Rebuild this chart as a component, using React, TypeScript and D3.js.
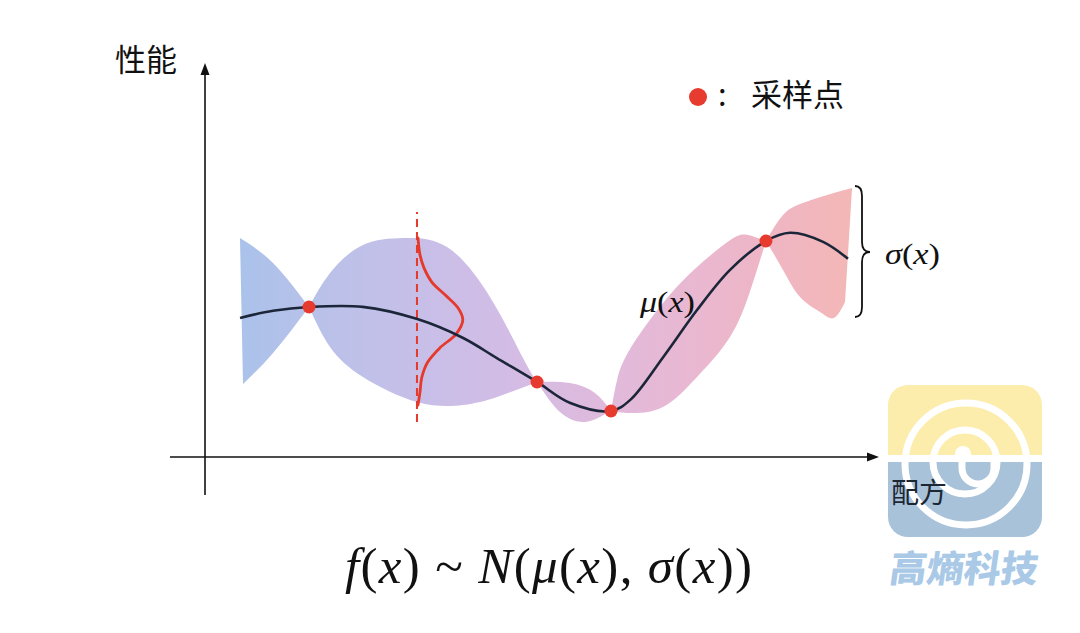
import React from 'react';
import * as d3 from 'd3';

const W = 1080;
const H = 633;

// mean curve μ(x) (chart units 0–100)
const meanX = [5.2, 10.1, 15.43, 23.4, 31.5, 38.3, 43.3, 49.26, 54.2, 60.24, 63.1, 68.0, 73.0, 77.9, 83.23, 86.8, 91.7, 95.4];
const meanY = [35.3, 37.1, 38.07, 38.1, 35.0, 30.2, 25.1, 19.04, 13.7, 11.68, 14.5, 25.4, 37.3, 47.5, 54.82, 56.9, 54.6, 50.3];

// sampled points
const sampleX = [15.43, 49.26, 60.24, 83.23];
const sampleY = [38.07, 19.04, 11.68, 54.82];

// confidence band, one lobe between consecutive samples: [x, y]
const bandUpper: [number, number][][] = [
  [[5.19, 55.58], [10.09, 49.24], [15.43, 38.07]],
  [[15.43, 38.07], [18.55, 46.7], [23.44, 53.81], [29.38, 55.58], [35.91, 53.3], [42.28, 40.61], [47.18, 25.1], [49.26, 19.04]],
  [[49.26, 19.04], [54.15, 18.78], [57.86, 16.24], [60.24, 11.68]],
  [[60.24, 11.68], [61.13, 19.5], [63.06, 27.4], [67.95, 39.09], [73.0, 48.22], [77.89, 55.0], [80.4, 56.4], [83.23, 54.82]],
  [[83.23, 54.82], [85.76, 61.4], [88.28, 64.2], [91.69, 66.2], [96.0, 68.27]],
];
const bandLower: [number, number][][] = [
  [[5.64, 18.53], [10.09, 26.4], [15.43, 38.07]],
  [[15.43, 38.07], [18.55, 27.92], [23.44, 20.3], [31.45, 13.96], [38.28, 13.2], [43.32, 15.23], [49.26, 19.04]],
  [[49.26, 19.04], [52.67, 11.42], [56.08, 8.88], [58.61, 10.15], [60.24, 11.68]],
  [[60.24, 11.68], [63.06, 11.17], [67.95, 12.69], [73.0, 20.3], [77.89, 30.46], [80.86, 42.0], [83.23, 54.82]],
  [[83.23, 54.82], [85.76, 47.46], [88.28, 40.61], [91.25, 36.8], [93.32, 35.28], [94.96, 39.34]],
];

// predictive distribution at one x (dashed line)
const probeX = 31.45;
const probeY = [8.88, 62.2];
const gaussY = [55.6, 51.3, 48.0, 44.4, 41.1, 37.8, 34.8, 31.2, 27.7, 24.1, 20.1, 16.5, 13.2];
const gaussD = [0.15, 0.45, 1.04, 2.2, 4.2, 6.1, 6.8, 5.8, 3.4, 1.6, 0.7, 0.45, 0.15];

// band gradient stops (offset, colour)
const gradOffsets = [0, 0.147, 0.294, 0.44, 0.588, 0.72, 0.85, 1];
const gradColors = ['#aac2ea', '#bbc1e9', '#c7bfe8', '#d3bce5', '#dfbadc', '#e8b8d3', '#eeb6c6', '#f4b7b6'];

const x = d3.scaleLinear().domain([0, 100]).range([205, 879]);
const y = d3.scaleLinear().domain([0, 100]).range([457, 63]);

const lineMean = d3.line<[number, number]>().x(d => x(d[0])).y(d => y(d[1])).curve(d3.curveCatmullRom.alpha(0.5));
const lineBand = d3.line<[number, number]>().x(d => x(d[0])).y(d => y(d[1])).curve(d3.curveNatural);

const meanPts: [number, number][] = meanX.map((v, i) => [v, meanY[i]]);
const gaussPts: [number, number][] = gaussY.map((v, i) => [probeX + gaussD[i], v]);

function lobePath(up: [number, number][], lo: [number, number][]) {
  const a = lineBand(up) || '';
  const b = (lineBand([...lo].reverse()) || '').replace(/^M/, 'L');
  return a + b + 'Z';
}

const CJK = '"Noto Sans CJK SC", "Noto Sans", sans-serif';
const MATH = '"Liberation Serif", "DejaVu Serif", serif';

export default function App() {
  const bandStart = x(5.19);
  const bandEnd = x(96.0);
  return (
    <svg width={W} height={H} viewBox={`0 0 ${W} ${H}`} style={{ position: 'absolute', left: 0, top: 0, background: '#fff' }}>
      <defs>
        <linearGradient id="band" gradientUnits="userSpaceOnUse" x1={bandStart} y1={0} x2={bandEnd} y2={0}>
          {gradOffsets.map((o, i) => (
            <stop key={i} offset={o} stopColor={gradColors[i]} />
          ))}
        </linearGradient>
        <clipPath id="logoClip">
          <rect x={888} y={385} width={154} height={152} rx={20} />
        </clipPath>
      </defs>
      <rect width={W} height={H} fill="#fff" />

      {/* axes */}
      <g stroke="#111" strokeWidth={1.6}>
        <line x1={x(0)} y1={495} x2={x(0)} y2={72} />
        <line x1={170} y1={y(0)} x2={870} y2={y(0)} />
      </g>
      <path d={`M${x(0)},${y(100)} L${x(0) - 4.5},${y(100) + 12} L${x(0) + 4.5},${y(100) + 12} Z`} fill="#111" />
      <path d={`M${x(100)},${y(0)} L${x(100) - 12},${y(0) - 4.5} L${x(100) - 12},${y(0) + 4.5} Z`} fill="#111" />
      <text x={115} y={71} fontFamily={CJK} fontSize={31} fill="#111">性能</text>

      {/* logo watermark */}
      <g>
        <g clipPath="url(#logoClip)">
          <rect x={888} y={385} width={154} height={76} fill="#fcedac" />
          <rect x={888} y={459} width={154} height={80} fill="#a8c2d9" />
          <rect x={888} y={455} width={154} height={7} fill="#fff" />
          <circle cx={966} cy={464} r={61} fill="none" stroke="#fff" strokeWidth={7} />
          <circle cx={965} cy={462} r={32} fill="none" stroke="#fff" strokeWidth={7} />
          <path d="M962,458 L962,468 A16,16 0 0 0 994,468 L994,458" fill="none" stroke="#fff" strokeWidth={7} />
          <circle cx={963} cy={454} r={8} fill="#fff" />
        </g>
        <text x={891} y={503} fontFamily={CJK} fontSize={28} fill="#1c2733">配方</text>
        <text x={889} y={582} fontFamily={CJK} fontSize={37} fontWeight={900} fill="#a9c9e6" transform="skewX(-8) translate(81,0)">高熵科技</text>
      </g>

      {/* band */}
      {bandUpper.map((up, i) => (
        <path key={i} d={lobePath(up, bandLower[i])} fill="url(#band)" />
      ))}

      {/* probe distribution */}
      <line x1={x(probeX)} x2={x(probeX)} y1={y(probeY[0])} y2={y(probeY[1])} stroke="#e5392b" strokeWidth={2} strokeDasharray="8,5" />
      <path d={lineMean(gaussPts) || ''} fill="none" stroke="#e5392b" strokeWidth={2.8} strokeLinecap="round" />

      {/* mean */}
      <path d={lineMean(meanPts) || ''} fill="none" stroke="#1c2639" strokeWidth={2.6} />

      {/* samples */}
      {sampleX.map((v, i) => (
        <circle key={i} cx={x(v)} cy={y(sampleY[i])} r={6.5} fill="#e63b2e" />
      ))}

      {/* brace */}
      <path d="M855,186 Q862,186 862,196 L862,242 Q862,252 870,252 Q862,252 862,262 L862,307 Q862,317 855,317" fill="none" stroke="#111" strokeWidth={1.8} />

      {/* labels */}
      <text x={640} y={312} fontFamily={MATH} fontSize={29} fill="#111" textLength={55} lengthAdjust="spacingAndGlyphs">
        <tspan fontStyle="italic">μ</tspan>(<tspan fontStyle="italic">x</tspan>)
      </text>
      <text x={885} y={264} fontFamily={MATH} fontSize={29} fill="#111" textLength={55} lengthAdjust="spacingAndGlyphs">
        <tspan fontStyle="italic">σ</tspan>(<tspan fontStyle="italic">x</tspan>)
      </text>

      {/* legend */}
      <circle cx={698} cy={97} r={9} fill="#e63b2e" />
      <text x={718} y={106} fontFamily={CJK} fontSize={31} fill="#111">:</text>
      <text x={751} y={106} fontFamily={CJK} fontSize={31} fill="#111">采样点</text>

      {/* formula */}
      <text x={345} y={583} fontFamily={MATH} fontSize={51} fill="#111" textLength={407} lengthAdjust="spacing">
        <tspan fontStyle="italic">f</tspan>(<tspan fontStyle="italic">x</tspan>) ~ <tspan fontStyle="italic">N</tspan>(<tspan fontStyle="italic">μ</tspan>(<tspan fontStyle="italic">x</tspan>), <tspan fontStyle="italic">σ</tspan>(<tspan fontStyle="italic">x</tspan>))
      </text>
    </svg>
  );
}
